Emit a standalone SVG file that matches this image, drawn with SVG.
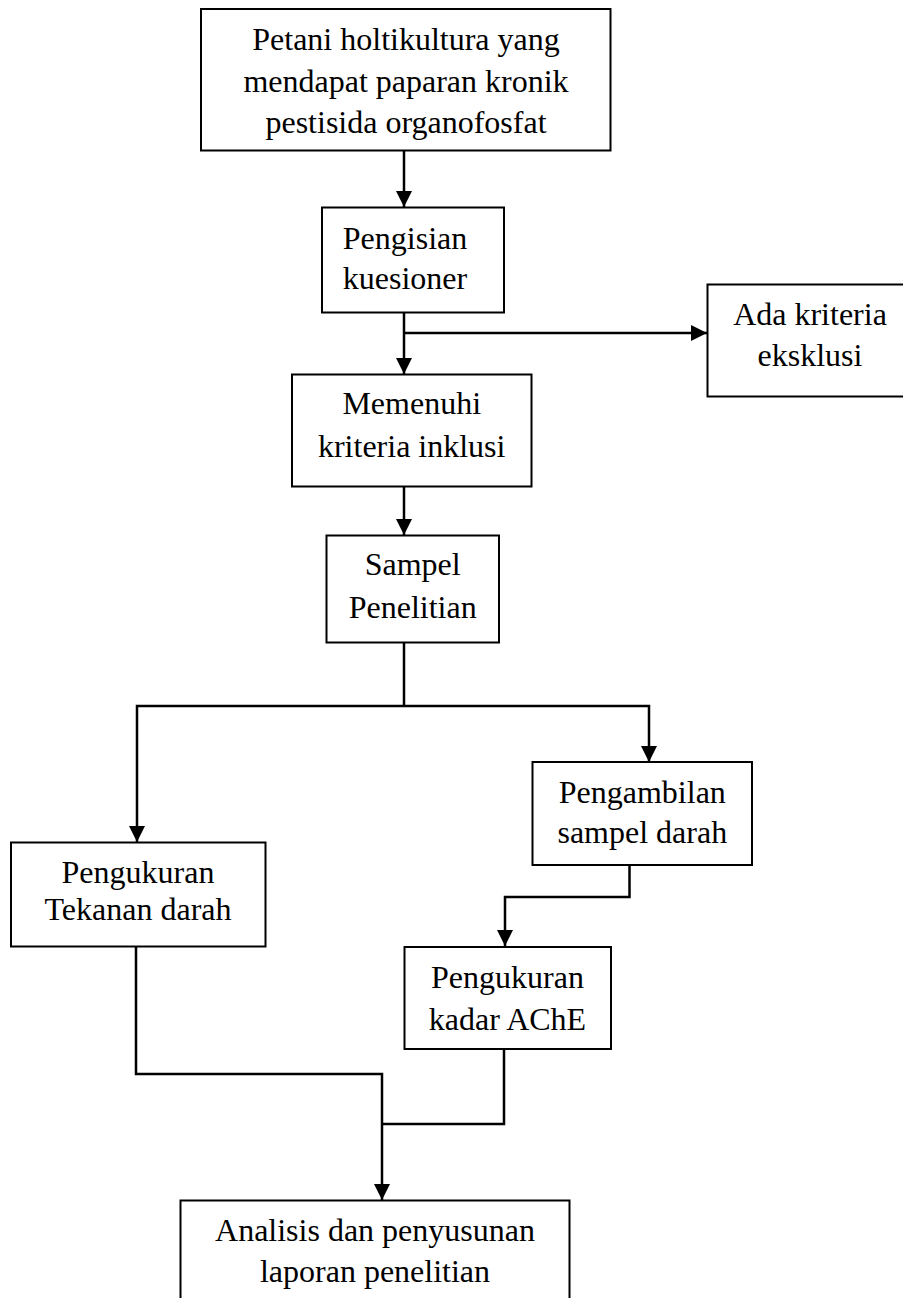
<svg xmlns="http://www.w3.org/2000/svg" width="903" height="1298" viewBox="0 0 903 1298">
<style>
  .box { fill: #ffffff; stroke: #000000; stroke-width: 2; }
  .lbl { font-family: "Liberation Serif", "Times New Roman", serif; font-size: 32px; fill: #000000; text-anchor: middle; }
  .conn { fill: none; stroke: #000000; stroke-width: 2.5; }
</style>
<defs>
  <marker id="arr" markerUnits="userSpaceOnUse" markerWidth="17" markerHeight="17" refX="16" refY="8" orient="auto">
    <path d="M0,0 L16,8 L0,16 z" fill="#000000"/>
  </marker>
</defs>
<rect x="0" y="0" width="903" height="1298" fill="#ffffff"/>

<g id="connectors">
  <path class="conn" d="M404,151 L404,207" marker-end="url(#arr)"/>
  <path class="conn" d="M404,313 L404,374" marker-end="url(#arr)"/>
  <path class="conn" d="M404,333 L707,333" marker-end="url(#arr)"/>
  <path class="conn" d="M404,487 L404,535" marker-end="url(#arr)"/>
  <path class="conn" d="M404,643 L404,706"/>
  <path class="conn" d="M404,706 L137,706 L137,842" marker-end="url(#arr)"/>
  <path class="conn" d="M404,706 L649,706 L649,762" marker-end="url(#arr)"/>
  <path class="conn" d="M629.5,865 L629.5,897 L505,897 L505,946" marker-end="url(#arr)"/>
  <path class="conn" d="M136,946 L136,1074 L382,1074 L382,1200" marker-end="url(#arr)"/>
  <path class="conn" d="M504,1049 L504,1124 L382,1124"/>
</g>

<g id="node-petani">
  <rect class="box" x="201" y="9" width="409.5" height="141.5"/>
  <text class="lbl" x="406" y="50">Petani holtikultura yang</text>
  <text class="lbl" x="406" y="91.5">mendapat paparan kronik</text>
  <text class="lbl" x="406" y="133">pestisida organofosfat</text>
</g>

<g id="node-pengisian">
  <rect class="box" x="322" y="207.5" width="182" height="105"/>
  <text class="lbl" x="405" y="249">Pengisian</text>
  <text class="lbl" x="405" y="289">kuesioner</text>
</g>

<g id="node-eksklusi">
  <rect class="box" x="707.5" y="284.5" width="205" height="112"/>
  <text class="lbl" x="810" y="325">Ada kriteria</text>
  <text class="lbl" x="810" y="366">eksklusi</text>
</g>

<g id="node-inklusi">
  <rect class="box" x="292" y="374.5" width="239.5" height="112"/>
  <text class="lbl" x="411.7" y="414">Memenuhi</text>
  <text class="lbl" x="411.7" y="456.5">kriteria inklusi</text>
</g>

<g id="node-sampel">
  <rect class="box" x="326.5" y="535.5" width="172.5" height="107"/>
  <text class="lbl" x="412.7" y="575">Sampel</text>
  <text class="lbl" x="412.7" y="617.5">Penelitian</text>
</g>

<g id="node-tekanan">
  <rect class="box" x="11" y="842.5" width="254.5" height="104"/>
  <text class="lbl" x="138" y="882.5">Pengukuran</text>
  <text class="lbl" x="138" y="920">Tekanan darah</text>
</g>

<g id="node-pengambilan">
  <rect class="box" x="532.5" y="762" width="219.5" height="103"/>
  <text class="lbl" x="642.3" y="802.5">Pengambilan</text>
  <text class="lbl" x="642.3" y="843">sampel darah</text>
</g>

<g id="node-ache">
  <rect class="box" x="404.5" y="947" width="206.5" height="102"/>
  <text class="lbl" x="507.5" y="988.3">Pengukuran</text>
  <text class="lbl" x="507.5" y="1030">kadar AChE</text>
</g>

<g id="node-analisis">
  <rect class="box" x="180.5" y="1200.5" width="389" height="130"/>
  <text class="lbl" x="375" y="1240.5">Analisis dan penyusunan</text>
  <text class="lbl" x="375" y="1281.5">laporan penelitian</text>
</g>
</svg>
